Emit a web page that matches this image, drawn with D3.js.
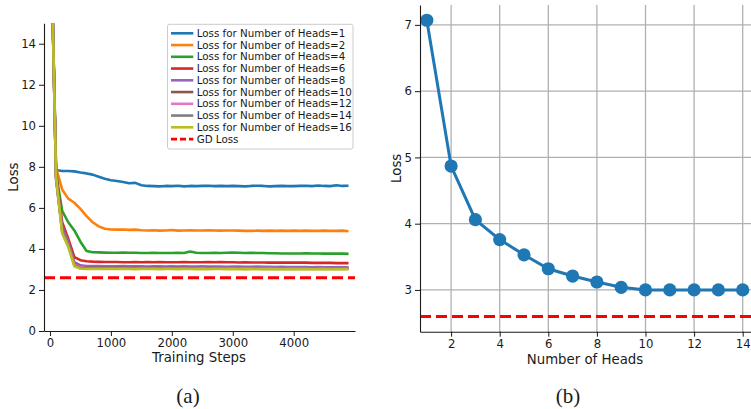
<!DOCTYPE html>
<html>
<head>
<meta charset="utf-8">
<script src="https://cdn.jsdelivr.net/npm/d3@7"></script>
<style>
  body { margin: 0; background: #fff; }
  text { font-family: "DejaVu Sans", sans-serif; fill: #1a1a1a; }
</style>
</head>
<body>
<script>
// ---- data: panel (a) ----
const steps = d3.range(0, 5000, 100)
const heads1  = [21.5,7.85,7.8,7.8,7.78,7.72,7.68,7.62,7.52,7.42,7.35,7.31,7.26,7.2,7.22,7.1,7.07,7.06,7.05,7.07,7.06,7.08,7.05,7.07,7.06,7.07,7.08,7.06,7.07,7.06,7.07,7.06,7.05,7.07,7.08,7.07,7.05,7.06,7.07,7.06,7.06,7.07,7.08,7.06,7.09,7.07,7.06,7.1,7.07,7.08]
const heads2  = [21.5,7.95,6.9,6.45,6.25,5.95,5.6,5.3,5.1,4.98,4.95,4.94,4.95,4.93,4.94,4.91,4.9,4.91,4.89,4.9,4.92,4.89,4.9,4.91,4.9,4.9,4.91,4.9,4.89,4.9,4.9,4.89,4.88,4.88,4.89,4.88,4.89,4.88,4.89,4.88,4.89,4.88,4.89,4.88,4.88,4.89,4.88,4.88,4.89,4.86]
const heads4  = [21.5,7.7,5.85,5.3,4.9,4.35,3.9,3.84,3.83,3.82,3.81,3.81,3.82,3.81,3.81,3.8,3.8,3.81,3.8,3.8,3.8,3.81,3.8,3.87,3.81,3.8,3.8,3.81,3.8,3.81,3.82,3.81,3.8,3.81,3.8,3.8,3.79,3.79,3.78,3.78,3.78,3.78,3.79,3.78,3.78,3.77,3.77,3.77,3.77,3.76]
const heads6  = [21.5,7.6,5.3,4.5,3.6,3.45,3.4,3.38,3.37,3.36,3.36,3.36,3.35,3.35,3.36,3.35,3.36,3.35,3.36,3.35,3.35,3.35,3.36,3.35,3.35,3.35,3.36,3.35,3.36,3.35,3.35,3.34,3.35,3.34,3.34,3.34,3.33,3.34,3.33,3.33,3.33,3.33,3.33,3.32,3.32,3.32,3.32,3.31,3.31,3.31]
const heads8  = [21.5,7.5,5.1,4.35,3.35,3.2,3.17,3.16,3.16,3.15,3.15,3.15,3.16,3.15,3.15,3.15,3.14,3.15,3.15,3.14,3.15,3.14,3.15,3.14,3.14,3.15,3.14,3.14,3.14,3.13,3.14,3.14,3.13,3.13,3.14,3.13,3.13,3.12,3.13,3.12,3.12,3.12,3.12,3.11,3.12,3.11,3.11,3.11,3.1,3.1]
const heads10 = [21.5,7.5,5.0,4.25,3.3,3.12,3.09,3.08,3.08,3.08,3.07,3.08,3.08,3.07,3.08,3.07,3.07,3.08,3.07,3.07,3.07,3.08,3.07,3.07,3.07,3.06,3.07,3.07,3.06,3.07,3.06,3.06,3.07,3.06,3.06,3.06,3.06,3.05,3.06,3.05,3.05,3.06,3.05,3.05,3.05,3.05,3.05,3.04,3.05,3.05]
const heads12 = [21.5,7.4,4.9,4.2,3.25,3.1,3.07,3.06,3.06,3.06,3.06,3.05,3.06,3.05,3.06,3.05,3.05,3.05,3.06,3.05,3.05,3.05,3.05,3.04,3.05,3.05,3.04,3.05,3.04,3.05,3.04,3.04,3.05,3.04,3.04,3.04,3.04,3.04,3.03,3.04,3.04,3.03,3.04,3.03,3.03,3.04,3.03,3.03,3.03,3.04]
const heads14 = [21.5,7.4,4.85,4.15,3.2,3.07,3.05,3.04,3.04,3.04,3.04,3.04,3.03,3.04,3.04,3.03,3.04,3.03,3.04,3.03,3.04,3.03,3.03,3.04,3.03,3.03,3.03,3.03,3.04,3.03,3.03,3.03,3.02,3.03,3.03,3.02,3.03,3.02,3.03,3.02,3.02,3.03,3.02,3.02,3.02,3.02,3.02,3.02,3.02,3.03]
const heads16 = [21.5,7.5,4.75,4.1,3.15,3.03,3.02,3.02,3.02,3.02,3.02,3.02,3.02,3.02,3.01,3.02,3.02,3.02,3.01,3.02,3.02,3.01,3.02,3.02,3.01,3.02,3.01,3.02,3.02,3.01,3.02,3.01,3.01,3.02,3.01,3.01,3.02,3.01,3.01,3.01,3.01,3.02,3.01,3.01,3.01,3.01,3.01,3.01,3.01,3.01]
const seriesNames  = ["Loss for Number of Heads=1","Loss for Number of Heads=2","Loss for Number of Heads=4","Loss for Number of Heads=6","Loss for Number of Heads=8","Loss for Number of Heads=10","Loss for Number of Heads=12","Loss for Number of Heads=14","Loss for Number of Heads=16"]
const seriesValues = [heads1,heads2,heads4,heads6,heads8,heads10,heads12,heads14,heads16]
const seriesColors = ["#1f77b4","#ff7f0e","#2ca02c","#d62728","#9467bd","#8c564b","#e377c2","#7f7f7f","#bcbd22"]
const gdLoss = 2.6
const xTicksA = [0,1000,2000,3000,4000]
const yTicksA = [0,2,4,6,8,10,12,14]

// ---- data: panel (b) ----
const numHeads  = [1,2,3,4,5,6,7,8,9,10,11,12,13,14]
const finalLoss = [7.07,4.87,4.06,3.76,3.53,3.32,3.21,3.12,3.04,3.0,3.0,3.0,3.0,3.0]
const xTicksB = [2,4,6,8,10,12,14]
const yTicksB = [3,4,5,6,7]

const W = 751, H = 409
const fmt = d3.format("d")

const svg = d3.select("body").append("svg")
    .attr("width", W)
    .attr("height", H)

svg.append("rect").attr("width", W).attr("height", H).attr("fill", "#fff")

// ================= panel (a) =================
const xa = d3.scaleLinear().domain([-98, 5006]).range([44, 355])
const ya = d3.scaleLinear().domain([0, 15]).range([331, 23.2])

svg.append("clipPath").attr("id", "clipA")
    .append("rect")
    .attr("x", 44).attr("y", ya(15))
    .attr("width", 311).attr("height", ya(0) - ya(15))

const ga = svg.append("g")

const lineA = d3.line()
    .x((d, i) => xa(steps[i]))
    .y(d => ya(d))

ga.append("g").attr("clip-path", "url(#clipA)")
    .selectAll("path")
    .data(seriesValues)
    .join("path")
        .attr("d", d => lineA(d))
        .attr("fill", "none")
        .attr("stroke", (d, i) => seriesColors[i])
        .attr("stroke-width", 2.6)
        .attr("stroke-linejoin", "round")

ga.append("line")
    .attr("x1", 44).attr("x2", 355)
    .attr("y1", ya(gdLoss)).attr("y2", ya(gdLoss))
    .attr("stroke", "#ff0000")
    .attr("stroke-width", 3)
    .attr("stroke-dasharray", "11,5")

ga.append("g")
    .attr("transform", `translate(0,${ya(0)})`)
    .call(d3.axisBottom(xa).tickValues(xTicksA).tickFormat(fmt).tickSize(5).tickPadding(3).tickSizeOuter(0))
ga.append("g")
    .attr("transform", `translate(44,0)`)
    .call(d3.axisLeft(ya).tickValues(yTicksA).tickFormat(fmt).tickSize(5).tickPadding(3).tickSizeOuter(0))

ga.append("text")
    .attr("x", 199).attr("y", 362)
    .attr("text-anchor", "middle")
    .attr("font-size", 13.3)
    .text("Training Steps")

ga.append("text")
    .attr("transform", `translate(18,${(ya(0) + ya(15)) / 2}) rotate(-90)`)
    .attr("text-anchor", "middle")
    .attr("font-size", 13.3)
    .text("Loss")

// legend
const lg = ga.append("g")
lg.append("rect")
    .attr("x", 167.5).attr("y", 24.3)
    .attr("width", 185.5).attr("height", 124.7)
    .attr("rx", 2)
    .attr("fill", "#fff").attr("fill-opacity", 0.85)
    .attr("stroke", "#cccccc").attr("stroke-width", 1)

const legendItems = seriesNames.map((n, i) => ({ name: n, color: seriesColors[i], dash: null }))
legendItems.push({ name: "GD Loss", color: "#ff0000", dash: "6,3" })

const li = lg.selectAll("g.item")
    .data(legendItems)
    .join("g")
        .attr("class", "item")
        .attr("transform", (d, i) => `translate(0,${33.3 + i * 11.75})`)
li.append("line")
    .attr("x1", 171).attr("x2", 193.3)
    .attr("stroke", d => d.color)
    .attr("stroke-width", d => d.dash ? 2.8 : 2.6)
    .attr("stroke-dasharray", d => d.dash)
li.append("text")
    .attr("x", 196.7)
    .attr("dy", "0.35em")
    .attr("font-size", 10.3)
    .text(d => d.name)

// ================= panel (b) =================
const xb = d3.scaleLinear().domain([0.72, 15.28]).range([420, 773.8])
const yb = d3.scaleLinear().domain([2.37, 7.30]).range([331.7, 5])

const gb = svg.append("g")

// grid
gb.append("g")
    .selectAll("line")
    .data(xTicksB)
    .join("line")
        .attr("x1", d => xb(d)).attr("x2", d => xb(d))
        .attr("y1", yb(7.30)).attr("y2", yb(2.37))
        .attr("stroke", "#b0b0b0").attr("stroke-width", 1.3)
gb.append("g")
    .selectAll("line")
    .data(yTicksB)
    .join("line")
        .attr("x1", 420).attr("x2", W)
        .attr("y1", d => yb(d)).attr("y2", d => yb(d))
        .attr("stroke", "#b0b0b0").attr("stroke-width", 1.3)

gb.append("line")
    .attr("x1", 420).attr("x2", W)
    .attr("y1", yb(gdLoss)).attr("y2", yb(gdLoss))
    .attr("stroke", "#ff0000")
    .attr("stroke-width", 3)
    .attr("stroke-dasharray", "11,5")

const lineB = d3.line()
    .x((d, i) => xb(numHeads[i]))
    .y(d => yb(d))

gb.append("path")
    .attr("d", lineB(finalLoss))
    .attr("fill", "none")
    .attr("stroke", "#1f77b4")
    .attr("stroke-width", 3)

gb.append("g")
    .selectAll("circle")
    .data(finalLoss)
    .join("circle")
        .attr("cx", (d, i) => xb(numHeads[i]))
        .attr("cy", d => yb(d))
        .attr("r", 6.6)
        .attr("fill", "#1f77b4")

gb.append("g")
    .attr("transform", `translate(0,${yb(2.37)})`)
    .call(d3.axisBottom(xb).tickValues(xTicksB).tickFormat(fmt).tickSize(5).tickPadding(3).tickSizeOuter(0))
gb.append("g")
    .attr("transform", `translate(420,0)`)
    .call(d3.axisLeft(yb).tickValues(yTicksB).tickFormat(fmt).tickSize(5).tickPadding(3).tickSizeOuter(0))

gb.append("text")
    .attr("x", 585).attr("y", 364)
    .attr("text-anchor", "middle")
    .attr("font-size", 13.3)
    .text("Number of Heads")

gb.append("text")
    .attr("transform", `translate(401,${(yb(2.37) + yb(7.30)) / 2}) rotate(-90)`)
    .attr("text-anchor", "middle")
    .attr("font-size", 13.3)
    .text("Loss")

// axis styling (both panels)
svg.selectAll(".domain").attr("stroke", "#1a1a1a").attr("stroke-width", 1.1)
svg.selectAll(".tick line").attr("stroke", "#1a1a1a").attr("stroke-width", 1)
svg.selectAll(".tick text")
    .attr("font-family", "DejaVu Sans, sans-serif")
    .attr("font-size", 11.7)
    .attr("fill", "#1a1a1a")

// panel captions
svg.append("text")
    .attr("x", 188).attr("y", 403)
    .attr("text-anchor", "middle")
    .style("font-family", "'Liberation Serif', 'DejaVu Serif', serif")
    .attr("font-size", 21)
    .text("(a)")
svg.append("text")
    .attr("x", 568).attr("y", 403)
    .attr("text-anchor", "middle")
    .style("font-family", "'Liberation Serif', 'DejaVu Serif', serif")
    .attr("font-size", 21)
    .text("(b)")
</script>
</body>
</html>
